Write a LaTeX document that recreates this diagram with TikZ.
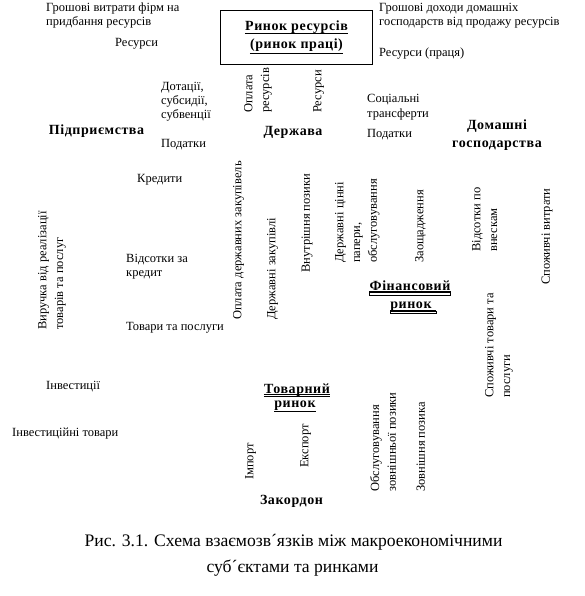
\documentclass[tikz,border=0pt]{standalone}
\usepackage{fontspec}
\setmainfont{Liberation Serif}
\newfontfamily\lblfont[LetterSpace=4]{Liberation Serif}
\begin{document}
\begin{tikzpicture}[x=1pt,y=-1pt,
  txt/.style={font=\fontsize{12.5}{14}\selectfont, inner sep=0, anchor=north west, align=left},
  rtxt/.style={inner sep=0, anchor=north west, align=left, rotate=90, font=\fontsize{12.5}{16.7}\selectfont},
  lbl/.style={font=\lblfont\bfseries\fontsize{14}{17}\selectfont, inner sep=0, anchor=base},
  ul/.style={line width=0.7pt},
  captxt/.style={font=\fontsize{17.6}{22}\selectfont, inner sep=0, anchor=base}
]
\useasboundingbox (0,0) rectangle (585,596);

% horizontal texts
\node[txt] (gvf) at (46,2.8) {Грошові витрати фірм на\\придбання ресурсів};
\node[txt] (res1) at (115,37.8) {Ресурси};
\node[txt] (dot) at (161,82.5) {Дотації,\\субсидії,\\субвенції};
\node[txt] (pod1) at (161,139.5) {Податки};
\node[txt] (gdd) at (379,2.8) {Грошові доходи домашніх\\господарств від продажу ресурсів};
\node[txt] (resp) at (379,47.5) {Ресурси (праця)};
\node[txt, font=\fontsize{12.5}{15}\selectfont] (soc) at (367,94.5) {Соціальні\\трансферти};
\node[txt] (pod2) at (367,129.5) {Податки};
\node[txt] (kred) at (137,174.5) {Кредити};
\node[txt] (vidk) at (126,254.5) {Відсотки за\\кредит};
\node[txt] (tp) at (126,322.5) {Товари та послуги};
\node[txt] (inv) at (46,381) {Інвестиції};
\node[txt] (invt) at (12,427.5) {Інвестиційні товари};

% rotated texts
\node[rtxt] (oplres) at (244,113) {Оплата\\ресурсів};
\node[rtxt] (res2) at (313,113) {Ресурси};
\node[rtxt] (vyr) at (38,330) {Виручка від реалізації\\товарів та послуг};
\node[rtxt] (opldz) at (233,320) {Оплата державних закупівель};
\node[rtxt] (dz) at (267,320) {Державні закупівлі};
\node[rtxt] (vnp) at (301.5,273) {Внутрішня позики};
\node[rtxt] (dcp) at (335,263) {Державні цінні\\папери,\\обслуговування};
\node[rtxt] (zaosh) at (415,263) {Заощадження};
\node[rtxt] (vidv) at (472,252) {Відсотки по\\внескам};
\node[rtxt] (spv) at (541.5,285) {Споживчі витрати};
\node[rtxt] (sptp) at (485,398) {Споживчі товари та\\послуги};
\node[rtxt] (imp) at (245,480) {Імпорт};
\node[rtxt] (eksp) at (300,468) {Експорт};
\node[rtxt] (obzp) at (370,492) {Обслуговування\\зовнішньої позики};
\node[rtxt] (zovp) at (416.5,492) {Зовнішня позика};

% box: resource market
\node[draw, line width=0.8pt, minimum width=152pt, minimum height=54pt, inner sep=0] (rbox) at (296,37) {};
\node[lbl] (rr1) at (296.5,31) {Ринок ресурсів};
\node[lbl] (rr2) at (296.5,49) {(ринок праці)};
\draw[ul] ([yshift=-2pt]rr1.base west) -- ([yshift=-2pt]rr1.base east);
\draw[ul] ([yshift=-4.5pt]rr2.base west) -- ([yshift=-4.5pt]rr2.base east);

% bold labels
\node[lbl] (pidpr) at (96.5,135) {Підприємства};
\node[lbl] (derzh) at (293,136) {Держава};
\node[lbl] (dom1) at (497,130) {Домашні};
\node[lbl] (dom2) at (497,148) {господарства};
\node[lbl] (fin1) at (410,290) {Фінансовий};
\node[lbl] (fin2) at (411,308) {ринок};
\node[lbl] (tov1) at (297,393) {Товарний};
\node[lbl] (tov2) at (295,407) {ринок};
\node[lbl] (zak) at (291.5,504) {Закордон};

% underlines
\draw[ul] ([yshift=-1.5pt]fin1.base west) -- ([yshift=-1.5pt]fin1.base east);
\draw[line width=0.5pt] ([yshift=-2pt]fin1.base west) rectangle ([yshift=-5.5pt]fin1.base east);
\draw[ul] ([yshift=-2.5pt]fin2.base west) -- ([xshift=4pt,yshift=-2.5pt]fin2.base east);
\draw[line width=0.5pt] ([yshift=-3pt]fin2.base west) rectangle ([xshift=4pt,yshift=-5.5pt]fin2.base east);
\draw[ul] ([yshift=-1.2pt]tov1.base west) -- ([yshift=-1.2pt]tov1.base east);
\draw[ul] ([yshift=-3.6pt]tov1.base west) -- ([yshift=-3.6pt]tov1.base east);
\draw[ul] ([yshift=-4.5pt]tov2.base west) -- ([yshift=-4.5pt]tov2.base east);

% caption
\node[captxt] (cap1) at (293.5,546) {Рис. 3.1. Схема взаємозв´язків між макроекономічними};
\node[captxt] (cap2) at (292.5,572) {суб´єктами та ринками};
\end{tikzpicture}
\end{document}
